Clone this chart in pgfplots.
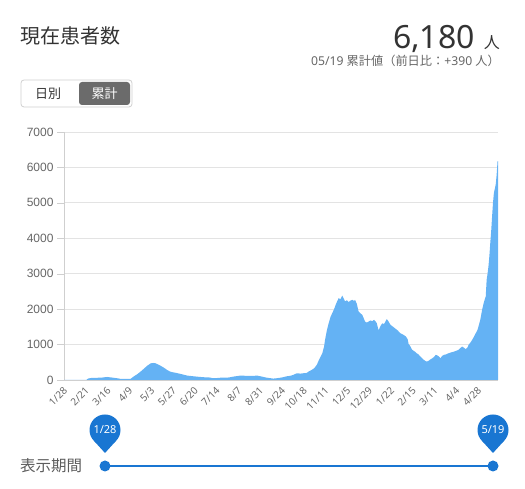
\documentclass[border=0pt]{standalone}
\usepackage{pgfplots}
\pgfplotsset{compat=1.18}
\usepackage{fontspec}
\setmainfont{Liberation Sans}
\newfontfamily\cjk{Noto Sans CJK JP}
\newfontfamily\noto{Noto Sans}
\definecolor{barblue}{HTML}{64B2F4}
\definecolor{pinblue}{HTML}{1976D2}
\definecolor{txt}{HTML}{333333}
\definecolor{subc}{HTML}{666666}
\definecolor{gridc}{HTML}{E3E3E3}
\definecolor{btn}{HTML}{6B6B6B}
\definecolor{axc}{HTML}{CFCFCF}
\begin{document}
\begin{tikzpicture}[x=1pt,y=1pt]
\useasboundingbox (0,0) rectangle (525,489);
% header
\node[anchor=west, inner sep=0, text=txt] at (20,453) {\fontsize{20}{20}\selectfont\cjk 現在患者数};
\node[anchor=base east, inner sep=0, text=txt] at (500,440) {\fontsize{32}{32}\selectfont\noto 6,180\hspace{9pt}\fontsize{16}{16}\selectfont\cjk 人};
\node[anchor=base east, inner sep=0, text=subc] at (500,423) {\fontsize{12.2}{12.2}\selectfont\noto 05/19 \cjk 累計値（前日比：\noto +390 \cjk 人）};
% buttons
\draw[axc, rounded corners=3pt, line width=0.8pt] (21,409) rectangle (132,382);
\fill[btn, rounded corners=3pt] (79,407) rectangle (130,384);
\node[inner sep=0, text=txt] at (48,395.5) {\fontsize{13}{13}\selectfont\cjk 日別};
\node[inner sep=0, text=white] at (104.5,395.5) {\fontsize{13}{13}\selectfont\cjk 累計};
% chart
\begin{axis}[
 at={(64pt,109pt)}, anchor=south west,
 scale only axis, width=434pt, height=248pt,
 xmin=-0.5, xmax=477.5, ymin=0, ymax=7000,
 axis x line*=bottom, axis y line*=left,
 axis line style={draw=axc, -},
 ytick={0,1000,...,7000},
 ymajorgrids, grid style={gridc, line width=0.8pt},
 tick align=outside, major tick length=7pt,
 ytick style={draw=axc},
 xtick={0,24,...,456},
 xticklabels={1/28,2/21,3/16,4/9,5/3,5/27,6/20,7/14,8/7,8/31,9/24,10/18,11/11,12/5,12/29,1/22,2/15,3/11,4/4,4/28},
 xtick style={draw=none},
 xticklabel style={rotate=45, anchor=east, inner sep=0.5pt, yshift=-2pt, font=\noto\fontsize{10}{10}\selectfont, text=subc},
 yticklabel style={font=\fontsize{12}{12}\selectfont, text=subc},
 /pgf/number format/assume math mode=true,
 /pgf/number format/set thousands separator={},
 scaled y ticks=false,
]
\addplot[fill=barblue, draw=none] coordinates {
(0,0)(24,0)(26,40)(30,60)(40,65)(47,85)(52,70)(58,50)(62,30)(70,30)(73,35)(76,95)(80,160)(84,240)(88,330)(91,400)(95,470)(98,480)(100,475)(103,440)(106,400)(110,340)(113,285)(116,240)(119,220)(124,195)(128,170)(132,145)(135,125)(142,105)(150,85)(155,75)(160,70)(164,50)(168,55)(172,65)(179,65)(183,80)(186,95)(190,110)(194,125)(198,120)(201,115)(208,115)(212,125)(216,105)(220,80)(223,65)(227,50)(230,40)(234,50)(238,65)(241,80)(245,105)(249,120)(252,145)(256,190)(260,180)(263,190)(267,200)(269,240)(272,280)(275,330)(278,430)(280,550)(282,650)(284,755)(286,950)(287,1130)(289,1400)(291,1600)(293,1780)(295,1890)(297,2000)(298,2075)(300,2200)(302,2310)(304,2280)(306,2380)(307,2330)(309,2220)(311,2250)(313,2200)(315,2240)(317,2265)(319,2230)(320,2265)(322,2150)(324,1930)(326,1880)(328,1840)(330,1720)(331,1650)(333,1620)(335,1650)(337,1680)(339,1660)(341,1700)(343,1640)(344,1600)(346,1400)(348,1520)(350,1600)(352,1580)(355,1720)(357,1650)(359,1560)(361,1520)(364,1460)(367,1400)(370,1320)(373,1280)(376,1230)(378,1150)(379,1020)(381,950)(383,850)(386,800)(388,755)(390,720)(392,660)(394,610)(396,565)(398,530)(399,520)(401,540)(403,580)(405,610)(407,650)(409,710)(411,690)(413,650)(414,610)(416,680)(418,710)(420,720)(423,755)(426,780)(429,800)(432,830)(434,850)(436,900)(438,945)(440,910)(442,870)(444,920)(445,990)(447,1050)(449,1130)(451,1220)(453,1320)(455,1420)(456,1510)(458,1700)(460,1980)(462,2200)(464,2360)(465,2830)(466,3000)(467,3210)(468,3500)(469,3870)(470,4200)(471,4620)(472,5000)(473,5280)(474,5400)(475,5520)(476,5790)(477,6180)(477.5,6180)
} \closedcycle;
\end{axis}
% slider
\draw[pinblue, line width=2.2pt] (105,23) -- (493,23);
\fill[pinblue] (105,23) circle (5.5);
\fill[pinblue] (493,23) circle (5.5);
\foreach \px/\lab in {105/1\slash 28, 493/5\slash 19} {
 \fill[pinblue] (\px,59) circle (15.5);
 \fill[pinblue] (\px,36) -- (\px-10.9,48) -- (\px+10.9,48) -- cycle;
 \node[inner sep=0, text=white] at (\px,59) {\fontsize{11}{11}\selectfont\noto\bfseries \lab};
}
\node[anchor=west, inner sep=0, text=subc!90!black] at (20,23) {\fontsize{15.5}{15.5}\selectfont\cjk 表示期間};
\end{tikzpicture}
\end{document}
